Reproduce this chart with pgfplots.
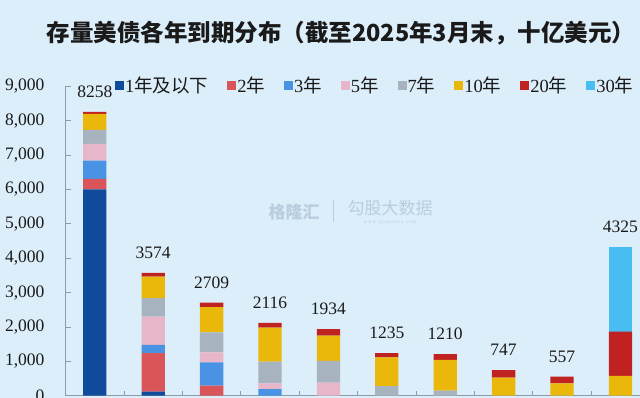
\documentclass[border=0pt]{standalone}
\usepackage{fontspec}
\setmainfont{Liberation Serif}
\newfontfamily\cjk{Noto Sans CJK SC}
\usepackage{pgfplots}
\usepackage{pgfplotstable}
\pgfplotsset{compat=1.18}
\definecolor{bg}{HTML}{DCEEFA}
\definecolor{wm}{HTML}{B9CDDE}
\definecolor{c1}{HTML}{0F4A9B}
\definecolor{c2}{HTML}{D9555A}
\definecolor{c3}{HTML}{4A92E4}
\definecolor{c5}{HTML}{E7B6C8}
\definecolor{c7}{HTML}{A7B4BF}
\definecolor{c10}{HTML}{E9B80A}
\definecolor{c20}{HTML}{C02222}
\definecolor{c30}{HTML}{48BDF2}
\definecolor{axc}{HTML}{8D9BA8}
\definecolor{txt}{HTML}{1A1A1A}
\pgfplotstableread{
x a b c d e f g h t
0 6005 300 530 490 410 460 63 0 8258
1 115 1120 240 825 535 630 109 0 3574
2 0 290 680 290 585 730 134 0 2709
3 0 0 190 170 630 990 136 0 2116
4 0 0 0 380 630 736 188 0 1934
5 0 0 0 0 282 835 118 0 1235
6 0 0 0 0 145 894 171 0 1210
7 0 0 0 0 0 524 223 0 747
8 0 0 0 0 0 360 197 0 557
9 0 0 0 0 0 573 1289 2463 4325
}\datatable
\pgfplotsset{
  common/.style={
    at={(65.6pt,2.3pt)}, anchor=south west,
    scale only axis, width=584pt, height=309.4pt,
    xmin=-0.5, xmax=9.5, ymin=0, ymax=9000,
  }
}
\begin{document}
\begin{tikzpicture}
\useasboundingbox (0,0) rectangle (640pt,398pt);
\fill[bg] (0,0) rectangle (640pt,398pt);
\clip (0,0) rectangle (640pt,398pt);
\node[font=\cjk\bfseries\fontsize{23.5}{28}\selectfont, text=txt] at (341pt,364.5pt) {存量美债各年到期分布（截至2025年3月末，十亿美元）};
% watermark
\node[font=\cjk\bfseries\fontsize{17}{20}\selectfont, text=wm] at (294pt,186pt) {格隆汇};
\draw[wm, line width=0.6pt] (333pt,176pt) -- (333pt,198pt);
\node[font=\cjk\fontsize{17}{20}\selectfont, text=wm] at (390pt,190pt) {勾股大数据};
\node[font=\fontsize{5}{6}\selectfont, text=wm] at (390pt,176pt) {w\,w\,w\,.\,g\,o\,g\,u\,d\,a\,t\,a\,.\,c\,o\,m};
\begin{axis}[
  common,
  ybar stacked, bar width=23.3pt,
  axis x line*=bottom, axis y line*=left,
  axis line style={-, draw=axc, line width=0.8pt},
  xtick={0.5,1.5,...,9.5}, xticklabel={\mbox{}},
  ytick={0,1000,...,9000},
  tick align=inside, major tick length=5pt,
  tick style={draw=axc, line width=0.8pt},
  yticklabel style={inner sep=0pt, xshift=-21pt, font=\fontsize{17.5}{20}\selectfont, text=txt},
  /pgf/number format/assume math mode=true,
  /pgf/number format/1000 sep={,},
  legend image code/.code={\fill[#1] (0pt,-4.5pt) rectangle (9pt,4.5pt);},
  legend style={at={(0.0846,1.004)}, anchor=west, draw=none, fill=none, inner sep=0pt,
    font=\fontsize{18.5}{21}\selectfont, text=txt, legend columns=-1,
    nodes={inner sep=1pt},
    /tikz/every even column/.append style={column sep=18pt}},
]
\addplot[fill=c1, draw=none] table[x=x, y=a] {\datatable};
\addplot[fill=c2, draw=none] table[x=x, y=b] {\datatable};
\addplot[fill=c3, draw=none] table[x=x, y=c] {\datatable};
\addplot[fill=c5, draw=none] table[x=x, y=d] {\datatable};
\addplot[fill=c7, draw=none] table[x=x, y=e] {\datatable};
\addplot[fill=c10, draw=none] table[x=x, y=f] {\datatable};
\addplot[fill=c20, draw=none] table[x=x, y=g] {\datatable};
\addplot[fill=c30, draw=none] table[x=x, y=h] {\datatable};
\legend{1{\cjk 年及以下}, 2{\cjk 年}, 3{\cjk 年}, 5{\cjk 年}, 7{\cjk 年}, 10{\cjk 年}, 20{\cjk 年}, 30{\cjk 年}}
\end{axis}
\begin{axis}[
  common, hide axis, clip=false,
]
\addplot[only marks, mark=*, mark size=0pt, draw=none, fill=none,
  mark options={draw=none, fill=none, opacity=0},
  nodes near coords, point meta=explicit symbolic,
  every node near coord/.style={font=\fontsize{17.5}{20}\selectfont, text=txt, text opacity=1, anchor=south, inner sep=0pt, yshift=14pt}]
  table[x=x, y=t, meta=t] {\datatable};
\end{axis}
\end{tikzpicture}
\end{document}
